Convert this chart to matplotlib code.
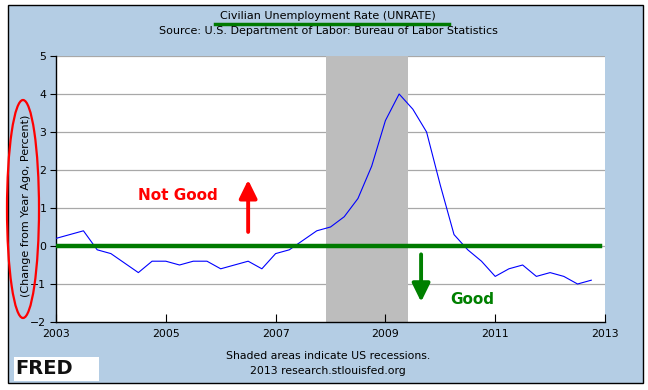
import numpy as np
import matplotlib
matplotlib.use("Agg")
import matplotlib.pyplot as plt
from matplotlib.patches import Ellipse, Rectangle

# quarterly observations, change from year ago (percent)
years = np.arange(2003.0, 2013.0, 0.25)
values = [
    0.2, 0.3, 0.4, -0.1,
    -0.2, -0.45, -0.7, -0.4,
    -0.4, -0.5, -0.4, -0.4,
    -0.6, -0.5, -0.4, -0.6,
    -0.2, -0.1, 0.15, 0.4,
    0.5, 0.77, 1.25, 2.1,
    3.3, 4.0, 3.6, 3.0,
    1.6, 0.3, -0.1, -0.4,
    -0.8, -0.6, -0.5, -0.8,
    -0.7, -0.8, -1.0, -0.9,
]
recession = (2007.917, 2009.417)
xticks = [2003, 2005, 2007, 2009, 2011, 2013]
yticks = [-2, -1, 0, 1, 2, 3, 4, 5]

bg = "#b4cde4"
fig = plt.figure(figsize=(6.48, 3.9), dpi=100)
fig.patch.set_facecolor("white")
fig.patches.append(Rectangle((8 / 648, 1 - 383 / 390), 635 / 648, 378 / 390,
                             transform=fig.transFigure, facecolor=bg,
                             edgecolor="black", lw=1, zorder=-10))

ax = fig.add_axes([56 / 648, 1 - 322 / 390, 549 / 648, 266 / 390])
ax.set_facecolor("white")
ax.set_xlim(2003, 2013)
ax.set_ylim(-2, 5)

ax.axvspan(*recession, color="#bdbdbd", lw=0, zorder=1)
for y in yticks[1:]:
    ax.axhline(y, color="#a8a8a8", lw=0.9, zorder=0.5)

ax.plot(years, values, color="#0000ff", lw=0.8, zorder=3)
ax.axhline(0, xmin=0.004, xmax=0.99, color="#007a00", lw=3.2, zorder=4)

for s in ["top", "right"]:
    ax.spines[s].set_visible(False)
ax.spines["left"].set_linewidth(1)
ax.spines["bottom"].set_linewidth(1)

ax.set_xticks(xticks)
ax.set_xticklabels([str(x) for x in xticks])
ax.set_yticks(yticks)
ax.tick_params(axis="x", direction="in", length=6, labelsize=7.8, pad=5)
ax.tick_params(axis="y", direction="out", length=4, labelsize=7.8, pad=3)

fig.text(26 / 648, 1 - 206 / 390, "(Change from Year Ago, Percent)",
         rotation=90, ha="center", va="center", fontsize=8)

# annotations
arrow_style = "-|>,head_length=0.55,head_width=0.27"
ax.text(2005.95, 1.32, "Not Good", color="#ff0000", fontsize=11, fontweight="bold",
        ha="right", va="center")
ax.annotate("", xy=(2006.5, 1.74), xytext=(2006.5, 0.37),
            arrowprops=dict(arrowstyle=arrow_style, color="#ff0000", lw=2.8,
                            mutation_scale=20, shrinkA=0, shrinkB=0))
ax.text(2010.58, -1.42, "Good", color="#008000", fontsize=11, fontweight="bold",
        ha="center", va="center")
ax.annotate("", xy=(2009.65, -1.47), xytext=(2009.65, -0.22),
            arrowprops=dict(arrowstyle=arrow_style, color="#008000", lw=2.8,
                            mutation_scale=20, shrinkA=0, shrinkB=0))

fig.patches.append(Ellipse((23 / 648, 1 - 209 / 390), 32 / 648, 218 / 390,
                           transform=fig.transFigure, fill=False,
                           edgecolor="#ff0000", lw=1.6, zorder=5))

# titles
fig.text(328 / 648, 1 - 16 / 390, "Civilian Unemployment Rate (UNRATE)",
         ha="center", va="center", fontsize=8)
fig.lines.append(plt.Line2D([215 / 648, 449 / 648], [1 - 23.5 / 390, 1 - 23.5 / 390],
                            transform=fig.transFigure, color="#007a00", lw=2.5))
fig.text(328 / 648, 1 - 31 / 390,
         "Source: U.S. Department of Labor: Bureau of Labor Statistics",
         ha="center", va="center", fontsize=8)

fig.text(328 / 648, 1 - 356 / 390, "Shaded areas indicate US recessions.",
         ha="center", va="center", fontsize=7.8)
fig.text(328 / 648, 1 - 371 / 390, "2013 research.stlouisfed.org",
         ha="center", va="center", fontsize=7.8)

# FRED logo
fig.patches.append(Rectangle((14 / 648, 1 - 381 / 390), 85 / 648, 24 / 390,
                             transform=fig.transFigure, facecolor="white",
                             edgecolor="none", zorder=2))
fig.text(15 / 648, 1 - 369 / 390, "FRED", ha="left", va="center",
         fontsize=14, fontweight="bold", color="#111111", zorder=3)
fig.lines.append(plt.Line2D(np.array([80, 85, 88, 93, 97]) / 648,
                            1 - np.array([377, 371, 373, 364, 361]) / 390,
                            transform=fig.transFigure, color="#6a8fb5", lw=1))

fig.savefig("out.png", dpi=100, facecolor=fig.get_facecolor())
